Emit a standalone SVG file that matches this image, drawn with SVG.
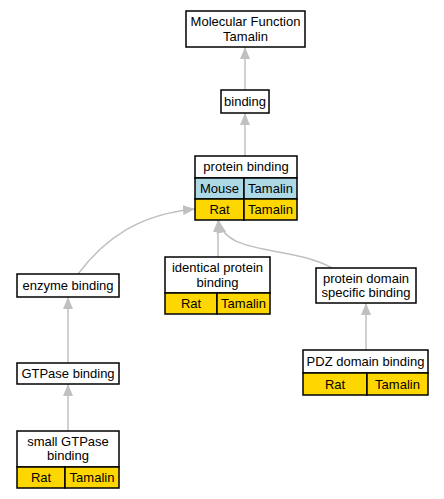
<svg xmlns="http://www.w3.org/2000/svg" width="444" height="499" viewBox="0 0 444 499">
<defs>
<style>
text{font-family:"Liberation Sans",Arial,sans-serif;font-size:13px;text-anchor:middle;fill:#000}
.box{fill:#fff;stroke:#000;stroke-width:1.5}
.gold{fill:#FFD700;stroke:#000;stroke-width:1.5}
.blue{fill:#ADD8E6;stroke:#000;stroke-width:1.5}
.edge{fill:none;stroke:#C0C0C0;stroke-width:1.5}
</style>
<marker id="ah" viewBox="0 0 12 10" refX="12" refY="5" markerWidth="12" markerHeight="10" markerUnits="userSpaceOnUse" orient="auto">
<path d="M0,0 L12,5 L0,10 z" fill="#C0C0C0"/>
</marker>
</defs>
<rect width="444" height="499" fill="#fff"/>
<g id="connectors">
<path class="edge" d="M245,90 L245,47" marker-end="url(#ah)"/>
<path class="edge" d="M245,156 L245,113" marker-end="url(#ah)"/>
<path class="edge" d="M218,257 L218,220" marker-end="url(#ah)"/>
<path class="edge" d="M332,268 C290,245 226,256 219,221" marker-end="url(#ah)"/>
<path class="edge" d="M78,274 C105,238 140,214 195,209" marker-end="url(#ah)"/>
<path class="edge" d="M68,363 L68,297" marker-end="url(#ah)"/>
<path class="edge" d="M68,431 L68,384" marker-end="url(#ah)"/>
<path class="edge" d="M366,350 L366,303" marker-end="url(#ah)"/>
</g>
<g id="mf">
<rect class="box" x="186" y="11" width="119" height="36"/>
<text x="245.5" y="26">Molecular Function</text>
<text x="245.5" y="41">Tamalin</text>
</g>
<g id="binding">
<rect class="box" x="221" y="90" width="48" height="23"/>
<text x="245" y="106">binding</text>
</g>
<g id="protein_binding">
<rect class="box" x="195" y="156" width="102" height="22"/>
<text x="246" y="171">protein binding</text>
<rect class="blue" x="195" y="178" width="49" height="21"/>
<rect class="blue" x="244" y="178" width="53" height="21"/>
<text x="219.5" y="193">Mouse</text>
<text x="270.5" y="193">Tamalin</text>
<rect class="gold" x="195" y="199" width="49" height="21"/>
<rect class="gold" x="244" y="199" width="53" height="21"/>
<text x="219.5" y="214">Rat</text>
<text x="270.5" y="214">Tamalin</text>
</g>
<g id="identical_protein_binding">
<rect class="box" x="165" y="257" width="105" height="36"/>
<text x="217.5" y="272">identical protein</text>
<text x="217.5" y="287">binding</text>
<rect class="gold" x="165" y="293" width="52" height="21"/>
<rect class="gold" x="217" y="293" width="53" height="21"/>
<text x="191" y="308">Rat</text>
<text x="243.5" y="308">Tamalin</text>
</g>
<g id="enzyme_binding">
<rect class="box" x="17" y="274" width="102" height="23"/>
<text x="68" y="290">enzyme binding</text>
</g>
<g id="gtpase_binding">
<rect class="box" x="17" y="363" width="102" height="21"/>
<text x="68" y="378">GTPase binding</text>
</g>
<g id="small_gtpase_binding">
<rect class="box" x="17" y="431" width="102" height="36"/>
<text x="68" y="446">small GTPase</text>
<text x="68" y="460">binding</text>
<rect class="gold" x="17" y="467" width="48" height="21"/>
<rect class="gold" x="65" y="467" width="54" height="21"/>
<text x="41" y="482">Rat</text>
<text x="92" y="482">Tamalin</text>
</g>
<g id="protein_domain_specific_binding">
<rect class="box" x="316" y="268" width="100" height="35"/>
<text x="366" y="283">protein domain</text>
<text x="366" y="297">specific binding</text>
</g>
<g id="pdz_domain_binding">
<rect class="box" x="303" y="350" width="125" height="23"/>
<text x="365.5" y="366">PDZ domain binding</text>
<rect class="gold" x="303" y="373" width="64" height="22"/>
<rect class="gold" x="367" y="373" width="61" height="22"/>
<text x="335" y="389">Rat</text>
<text x="397.5" y="389">Tamalin</text>
</g>
</svg>
